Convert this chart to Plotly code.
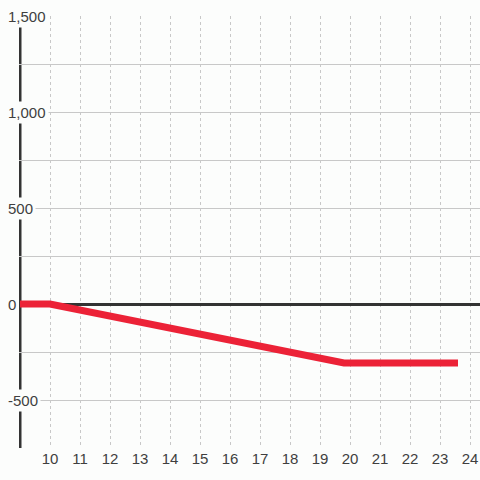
import plotly.graph_objects as go

# data
line_x = [9, 10, 19.8, 23.6]
line_y = [0, 0, -307, -307]
x_ticks = list(range(10, 25))
x_tick_labels = [str(v) for v in x_ticks]
y_grid = [-750, -500, -250, 0, 250, 500, 750, 1000, 1250, 1500]
y_label_vals = [1500, 1000, 500, 0, -500]
y_label_text = ["1,500", "1,000", "500", "0", "-500"]

BG = "#fcfdfc"
FONT = "Liberation Sans, Arial, sans-serif"
TXT = "#3f3f3f"

fig = go.Figure()
fig.add_trace(go.Scatter(
    x=line_x, y=line_y, mode="lines",
    line=dict(color="#ec2237", width=7),
    hoverinfo="skip", cliponaxis=False,
))

fig.add_shape(type="line", xref="x", yref="paper", x0=9, x1=9, y0=0, y1=1,
              line=dict(color="#333333", width=3), layer="between")

for v, t in zip(y_label_vals, y_label_text):
    fig.add_annotation(
        xref="paper", yref="y", x=0, y=v, text=t, showarrow=False,
        xanchor="left", yanchor="middle", xshift=-14,
        font=dict(family=FONT, size=15, color=TXT),
        bgcolor=BG, borderpad=2,
    )

fig.update_layout(
    width=480, height=480,
    margin=dict(l=19, r=0, t=16, b=32),
    paper_bgcolor=BG, plot_bgcolor=BG,
    showlegend=False,
    font=dict(family=FONT, size=15, color=TXT),
    xaxis=dict(
        range=[9 - 1 / 30, 24 + 1 / 3],
        tickmode="array", tickvals=x_ticks, ticktext=x_tick_labels,
        showgrid=True, gridcolor="#c8c8c8", gridwidth=1, griddash="3px,3px",
        zeroline=False, showline=False, ticks="",
        tickfont=dict(family=FONT, size=15, color=TXT),
    ),
    yaxis=dict(
        range=[-750, 1500],
        tickmode="array", tickvals=y_grid, showticklabels=False,
        showgrid=True, gridcolor="#c8c8c8", gridwidth=1,
        zeroline=True, zerolinecolor="#333333", zerolinewidth=3,
        showline=False, ticks="",
    ),
)

fig.write_html(
    "out.html",
    config={"displayModeBar": False},
    post_script="document.body.style.margin='0';document.body.style.background='%s';" % BG,
)
